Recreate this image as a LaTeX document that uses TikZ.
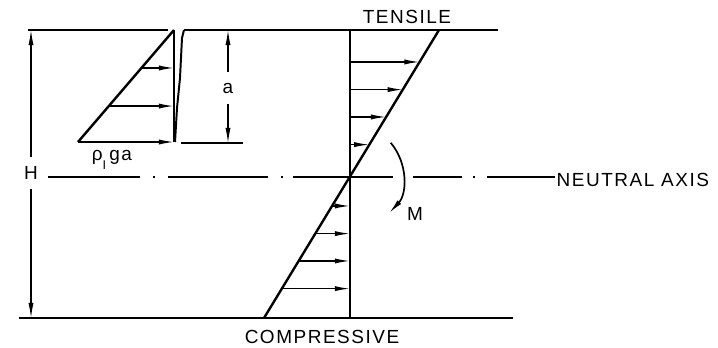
\documentclass[tikz,border=0pt]{standalone}
\usepackage{fontspec}
\setmainfont{Liberation Sans}[LetterSpace=8]
\usetikzlibrary{calc,arrows.meta}

\begin{document}
\begin{tikzpicture}[
    x=0.025cm, y=-0.025cm,
    >={Latex[length=3.8mm,width=1.3mm]},
    % Styling for line types
    face/.style={line width=1.4pt},
    stress/.style={line width=1.7pt},
    force/.style={line width=1pt, ->},
    dimline/.style={line width=0.8pt, ->},
    axisline/.style={line width=1.1pt},
    lbl/.style={inner sep=1pt, font=\fontsize{13.5}{15}\selectfont},
    dimlbl/.style={lbl, minimum height=0.78cm}
]

    \useasboundingbox (0,0) rectangle (718,348);

    % Key points of the section
    \coordinate (Htop) at (31,30);
    \coordinate (Hbot) at (31,318);
    \coordinate (Stop) at (350,30);
    \coordinate (Sbot) at (350,318);
    \coordinate (O)    at (350,177);
    \coordinate (Dlo)  at (264,318);
    \coordinate (Dhi)  at (439,30);
    \coordinate (A)    at (174,30);
    \coordinate (B)    at (78,142);
    \coordinate (C)    at (174,142);
    \coordinate (atop) at (228,30);
    \coordinate (abot) at (228,143);

    % Top and bottom faces
    \draw[face] (28,30) -- (168,30);
    \draw[face] (184,30) -- (498,30);
    \draw[face] (19,318) -- (513,318);

    % Crack
    \draw[face] (A) -- (C);
    \draw[face] (184,30) -- (182,38) -- (180,78) -- (177,108) -- (175,142);

    % Labels
    \node[lbl] (ten)  at (407,17)  {TENSILE};
    \node[lbl] (comp) at (322,337) {COMPRESSIVE};
    \node[lbl, anchor=west] (NA) at (555,180) {NEUTRAL AXIS};
    \node[lbl] (M)    at (415,214) {M};
    \node[lbl] (rho)  at (112,160) {ρ\raisebox{-0.9ex}{\small I}\,ga};
    \node[dimlbl] (H) at (31,173)  {H};
    \node[dimlbl] (a) at (228,88)  {a};

    % Neutral axis (chain line)
    \foreach \xa/\xb in {48/140,168/268,293/393,413/462} {
        \draw[axisline] (\xa,177) -- (\xb,177);
    }
    \foreach \xd in {153,281,473} {
        \draw[axisline] (\xd,177) -- (\xd+2,177);
    }
    \draw[axisline] (487,177) -- (NA.west |- O);

    % Dimensions H and a
    \draw[dimline] (H) -- (Htop);
    \draw[dimline] (H) -- (Hbot);
    \draw[dimline] (a) -- (atop);
    \draw[dimline] (a) -- (abot);
    \draw[line width=0.8pt] (181,143) -- (243,143);

    % Section line and stress distribution
    \draw[face] (Stop) -- (Sbot);
    \draw[stress] (Dlo) -- (Dhi);
    \foreach \t in {0.889,0.793,0.698,0.602} {
        \coordinate (P) at ($(Dlo)!\t!(Dhi)$);
        \draw[force] (Stop |- P) -- (P);
    }
    \foreach \t in {0.389,0.293,0.198,0.102} {
        \coordinate (P) at ($(Dlo)!\t!(Dhi)$);
        \draw[force] (P) -- (Stop |- P);
    }

    % Water pressure in the crack
    \draw[stress] (A) -- (B);
    \draw[force] (B) -- (C);
    \foreach \t in {0.321,0.661} {
        \coordinate (P) at ($(B)!\t!(A)$);
        \draw[force] (P) -- (P -| C);
    }

    % Moment
    \draw[line width=1.2pt, ->] ($(O)+(40:1.33cm)$) arc[start angle=40, end angle=-43, radius=1.33cm];

\end{tikzpicture}
\end{document}
